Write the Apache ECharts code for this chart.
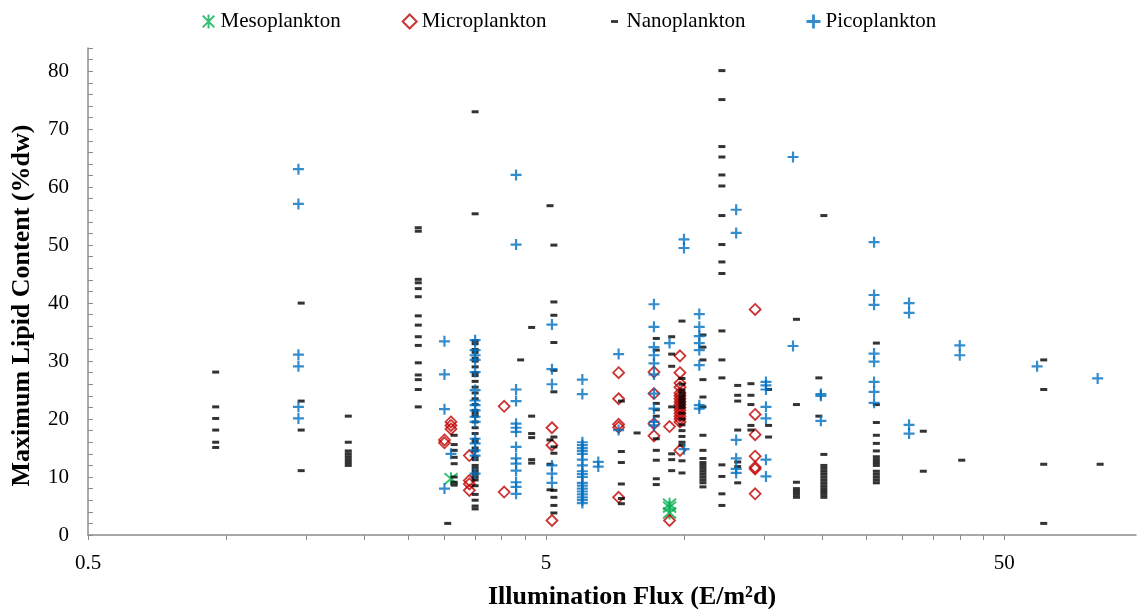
<!DOCTYPE html>
<html>
<head>
<meta charset="utf-8">
<script src="https://cdn.jsdelivr.net/npm/echarts@6/dist/echarts.min.js"></script>
<style>
  html, body { margin: 0; padding: 0; background: #ffffff; }
  #chart { width: 1138px; height: 609px; }
</style>
</head>
<body>
<div id="chart"></div>
<script>
// Each column: [illumination flux (E/m2d), [maximum lipid contents (%dw)]]
const mesoCols = [
  [3.1, [9.7]],
  [9.3, [5.3, 4.8, 3.8]]
];

const microCols = [
  [3.0, [16.4, 15.9]],
  [3.1, [19.5, 18.9, 18.3]],
  [3.4, [13.7, 9.4, 8.8, 7.7]],
  [4.05, [22.2, 7.4]],
  [5.15, [18.5, 15.5, 2.5]],
  [7.2, [28.0, 23.5, 19.1, 18.6, 6.5]],
  [8.6, [28.1, 24.4, 19.2, 17.1]],
  [9.3, [18.7, 2.5]],
  [9.8, [30.9, 28.0, 26.2, 25.5, 24.5, 24, 23.5, 23, 22.5, 22, 21.5, 21, 20.5, 20, 19.5, 14.6]],
  [14.3, [38.9, 20.8, 17.3, 13.6, 11.7, 11.4, 7.1]]
];

const nanoCols = [
  [0.95, [28.1, 22.1, 20.1, 18.1, 16.0, 15.1]],
  [1.46, [40.0, 23.1, 18.1, 11.1]],
  [1.85, [20.5, 16.0, 14.5, 14.0, 13.5, 13.0, 12.5, 12.0]],
  [2.63, [53.0, 52.4, 44.1, 43.5, 42.5, 41.1, 37.8, 36.2, 34.2, 32.7, 29.7, 27.6, 26.8, 25.1, 22.1]],
  [3.05, [2.0]],
  [3.15, [17.2, 15.6, 14.6, 13.4, 12.3, 10.0, 9.1, 8.6]],
  [3.5, [73.0, 55.4, 33.5, 33, 32, 31.5, 30.5, 30, 29, 28, 27.5, 26.5, 25.5, 24.5, 23.5, 22.5, 21.5, 21, 20.5, 19.5, 18.5, 17.5, 16.5, 16, 15, 14.5, 13.5, 13, 12, 11.5, 11, 10.5, 10, 9.5, 8.5, 7, 6, 5, 4.5]],
  [4.4, [30.2]],
  [4.65, [35.8, 20.5, 17.5, 16.8, 13.0, 12.4]],
  [5.1, [56.8, 16.4, 12.2, 7.8]],
  [5.2, [50.0, 40.2, 37.9, 33.2, 28.4, 24.7, 16.9, 15.2, 14.1, 7.7, 6.5, 5.1, 3.8]],
  [7.3, [23.1, 14.4, 12.5, 8.8, 6.3, 5.4]],
  [7.9, [17.6]],
  [8.7, [33.9, 31.9, 22.7, 21.6, 20.5, 16.6, 14.6, 12.9, 9.7, 8.7]],
  [9.4, [34.2, 31.2, 29.1, 22.1, 14.0, 13.0, 11.1]],
  [9.9, [36.9, 27, 26, 25, 24.5, 24, 23.5, 23, 22.5, 22, 21, 20, 19, 18, 17, 16, 15.5, 12.8, 10.7]],
  [11.0, [34.5, 32.4, 30.2, 26.8, 23.8, 22.1, 17.2, 14.6, 13.2, 12.5, 12, 11.5, 11, 10.5, 10, 9.5, 9, 8.3]],
  [12.1, [80.1, 75.1, 67.0, 65.2, 62.1, 60.2, 55.1, 50.1, 47.1, 45.1, 35.2, 30.2, 27.1, 12.1, 10.1, 7.1, 5.1]],
  [13.1, [25.8, 24.1, 23.1, 18.1, 12.6, 11.8, 9.0]],
  [14.0, [26.1, 24.1, 22.5, 18.9, 18.1]],
  [15.3, [25.1, 18.9, 16.9]],
  [17.6, [37.2, 22.5, 9.1, 8.0, 7.5, 7.0, 6.5]],
  [19.7, [27.1, 20.5]],
  [20.2, [55.1, 13.9, 12.0, 11.5, 11.0, 10.5, 10.0, 9.5, 9.0, 8.5, 8.0, 7.5, 7.0, 6.5]],
  [26.3, [33.1, 22.5, 19.4, 17.2, 15.8, 14.5, 13.5, 13, 12.5, 12, 11, 10.5, 10, 9.5, 9]],
  [33.3, [17.9, 11.0]],
  [40.4, [12.9]],
  [61, [30.2, 25.1, 12.2, 2.0]],
  [81, [12.2]]
];

const picoCols = [
  [1.44, [63.1, 57.1, 31.1, 29.1, 22.1, 20.1]],
  [3.0, [33.4, 27.7, 21.7, 8.0]],
  [3.1, [14.0]],
  [3.5, [33.6, 31.9, 31.0, 30.2, 28.1, 25.0, 23.2, 22.4, 21.5, 20.4, 19.5, 16.6, 15.8, 14.6, 13.7, 10.6]],
  [4.3, [62.1, 50.1, 25.1, 23.1, 19.2, 18.5, 17.8, 15.2, 13.2, 12.3, 11.1, 9.1, 8.3, 7.1]],
  [5.15, [36.3, 28.6, 26.0, 12.0, 10.6, 9.0]],
  [6.0, [26.8, 24.3, 16, 15.5, 15, 14.5, 14, 13, 12, 11, 10.5, 10, 9, 8.5, 8, 7.5, 7, 6.5, 6, 5.5]],
  [6.5, [12.6, 11.8]],
  [7.2, [31.2, 18.1]],
  [8.6, [39.8, 35.9, 32.4, 31.0, 29.6, 27.7, 24.4, 21.8, 19.5, 18.9]],
  [9.3, [33.1]],
  [10.0, [51.0, 49.5, 14.8]],
  [10.8, [38.1, 35.9, 34.3, 33.1, 31.9, 29.3, 22.4, 21.8]],
  [13.0, [56.1, 52.1, 16.4, 13.2, 11.4, 10.7]],
  [15.1, [26.4, 25.8, 25.1, 22.1, 20.1, 13.0, 10.1]],
  [17.3, [65.2, 32.6]],
  [19.9, [24.3, 24.0, 19.7]],
  [26, [50.5, 41.4, 39.7, 31.3, 29.9, 26.4, 24.7, 22.8]],
  [31, [40.0, 38.3, 19.0, 17.5]],
  [40, [32.7, 31.0]],
  [59, [29.1]],
  [80, [27.0]]
];

// Axis tick positions
const xLabelValues = [0.5, 5, 50];
const xTickValues = [0.5, 1, 1.5, 2, 2.5, 3, 3.5, 4, 4.5, 5, 10, 15, 20, 25, 30, 35, 40, 45, 50];
const yLabelValues = [0, 10, 20, 30, 40, 50, 60, 70, 80];
const yTickValues = [];
for (let v = 0; v <= 84; v += 2) yTickValues.push(v);

// Expand columns into [x, y] points
function toPoints(cols) {
  const pts = [];
  cols.forEach(([x, ys]) => ys.forEach(y => pts.push([x, y])));
  return pts;
}

const FONT = '"Liberation Serif", "Times New Roman", serif';
const PLUS = 'path://M4,0H6V4H10V6H6V10H4V6H0V4H4Z';
const STAR = 'path://M0,0L10,10M10,0L0,10M5,-1L5,11';
const DASH_ICON = 'path://M0,0M14,14M3.5,5.6H10.5V8.4H3.5Z';

const chart = echarts.init(document.getElementById('chart'), null, { renderer: 'canvas' });

chart.setOption({
  backgroundColor: '#ffffff',
  animation: false,
  textStyle: { fontFamily: FONT },
  legend: {
    top: 6,
    left: 'center',
    itemGap: 61,
    itemWidth: 14,
    itemHeight: 14,
    textStyle: { fontFamily: FONT, fontSize: 21, color: '#000' },
    data: [
      { name: 'Mesoplankton' },
      { name: 'Microplankton' },
      { name: 'Nanoplankton', icon: DASH_ICON },
      { name: 'Picoplankton' }
    ]
  },
  grid: { left: 88, right: 2, top: 48, bottom: 74, containLabel: false, outerBoundsMode: 'none' },
  xAxis: {
    type: 'log',
    logBase: 10,
    min: 0.5,
    max: 97,
    name: 'Illumination Flux (E/m\u00B2d)',
    nameLocation: 'middle',
    nameGap: 49,
    nameTextStyle: { fontFamily: FONT, fontSize: 26, fontWeight: 'bold', color: '#000', padding: [0, 0, 0, 40] },
    axisLine: { lineStyle: { color: '#8c8c8c', width: 1.5 } },
    axisTick: { show: true, inside: false, length: 5, customValues: xTickValues, lineStyle: { color: '#8c8c8c' } },
    axisLabel: { customValues: xLabelValues, fontFamily: FONT, fontSize: 21, color: '#000', margin: 18 },
    splitLine: { show: false },
    minorTick: { show: false }
  },
  yAxis: {
    type: 'value',
    min: 0,
    max: 84,
    name: 'Maximum Lipid Content (%dw)',
    nameLocation: 'middle',
    nameGap: 53,
    nameRotate: 90,
    nameTextStyle: { fontFamily: FONT, fontSize: 26, fontWeight: 'bold', color: '#000', padding: [0, 28, 0, 0] },
    axisLine: { show: true, lineStyle: { color: '#8c8c8c', width: 1.5 } },
    axisTick: { show: true, inside: true, length: 5, customValues: yTickValues, lineStyle: { color: '#8c8c8c' } },
    axisLabel: { customValues: yLabelValues, fontFamily: FONT, fontSize: 21, color: '#000', margin: 19 },
    splitLine: { show: false }
  },
  series: [
    {
      name: 'Mesoplankton',
      type: 'scatter',
      symbol: STAR,
      symbolSize: 13,
      itemStyle: { color: 'rgba(0,0,0,0)', borderColor: '#00B050', borderWidth: 2 },
      data: toPoints(mesoCols)
    },
    {
      name: 'Microplankton',
      type: 'scatter',
      symbol: 'diamond',
      symbolSize: 11,
      itemStyle: { color: 'rgba(0,0,0,0)', borderColor: '#C00000', borderWidth: 1.8 },
      data: toPoints(microCols)
    },
    {
      name: 'Nanoplankton',
      type: 'scatter',
      symbol: 'rect',
      symbolSize: [7, 3],
      itemStyle: { color: '#000000' },
      data: toPoints(nanoCols)
    },
    {
      name: 'Picoplankton',
      type: 'scatter',
      symbol: PLUS,
      symbolSize: 11,
      itemStyle: { color: '#0070C0' },
      data: toPoints(picoCols)
    }
  ]
});
</script>
</body>
</html>
